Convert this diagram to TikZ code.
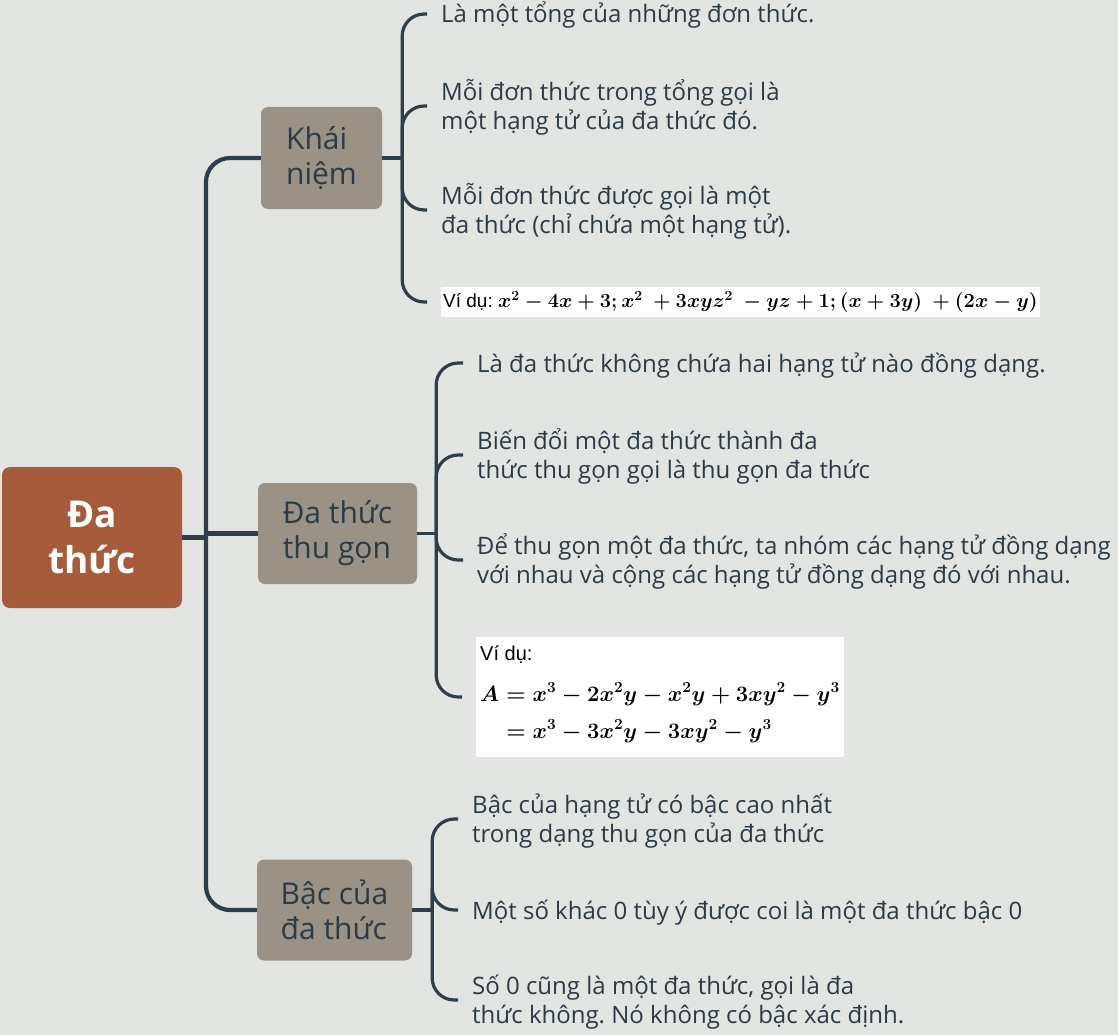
\RequirePackage{fix-cm}
\documentclass[tikz,border=0pt]{standalone}
\usepackage{amsmath}
\usepackage{amssymb}
\usepackage[no-math]{fontspec}
\setmainfont{Open Sans}
\newfontfamily\exsans{Liberation Sans}
\usepackage{tikz}
\usepackage{xcolor}
\usetikzlibrary{positioning}

\definecolor{bgpage}{HTML}{E3E5E2}
\definecolor{rootfill}{HTML}{A65B3A}
\definecolor{topicfill}{HTML}{9A9187}
\definecolor{linkcol}{HTML}{2F3E48}
\definecolor{txtcol}{HTML}{2B3A45}

% fixed strut so that one- and two-line leaves sit alike on their hook
\newcommand{\leaftxt}[1]{\rule{0pt}{26pt}#1\rule[-8pt]{0pt}{8pt}}

\begin{document}
\frenchspacing
\begin{tikzpicture}[x=1pt, y=-1pt,
    root/.style={rectangle, rounded corners=8, fill=rootfill, text=white, font=\fontsize{37}{46}\selectfont\bfseries, align=center, minimum width=180, minimum height=141},
    topic/.style={rectangle, rounded corners=7, fill=topicfill, text=txtcol, font=\fontsize{30}{35}\selectfont, align=left},
    leaf/.style={anchor=west, inner sep=0, text=txtcol, font=\fontsize{24}{28.5}\selectfont, align=left},
    example/.style={anchor=west, fill=white, text=black, align=left},
    link/.style={draw=linkcol, line width=3.2},
    trunk/.style={draw=linkcol, line width=4.2, rounded corners=24},
    hook/.style={link, rounded corners=22}]

        \fill[bgpage] (0,0) rectangle (1118,1035);
        \useasboundingbox (0,0) rectangle (1118,1035);

        \node[root] (root) at (92,537.5) {Đa\\thức};
        \node[topic, minimum width=121, minimum height=102] (kn) at (321.5,158) {Khái\\niệm};
        \node[topic, minimum width=159, minimum height=101] (tg) at (337.5,533.5) {Đa thức\\thu gọn};
        \node[topic, minimum width=155, minimum height=101] (bac) at (334.5,910) {Bậc của\\đa thức};

        \coordinate (tr) at (206,533.5);
        \draw[trunk] (kn.west) -| (tr) |- (bac.west);
        \draw[link, line width=4.2] (root.east) -- (root.east -| tr);
        \draw[link, line width=4.2] (tr) -- (tg.west);

        % Khai niem
        \node[leaf] (k1) at (441,14) {\leaftxt{Là một tổng của những đơn thức.}};
        \node[leaf] (k2) at (441,106) {\leaftxt{Mỗi đơn thức trong tổng gọi là\\một hạng tử của đa thức đó.}};
        \node[leaf] (k3) at (441,210) {\leaftxt{Mỗi đơn thức được gọi là một\\đa thức (chỉ chứa một hạng tử).}};
        \node[example, inner xsep=2, inner ysep=2, minimum height=30] (ex1) at (441,302)
            {{\exsans\fontsize{19}{21}\selectfont Ví dụ: }{\fontsize{20}{22}\selectfont\boldmath$x^2-4x+3;x^2\ +3xyz^2\ -yz+1;(x+3y)\ +(2x-y)$}};

        \coordinate[right=20pt of kn.east] (s1);
        \draw[link] (kn.east) -- (s1);
        \draw[hook] (s1) |- ([xshift=-14pt]k1.west);
        \draw[hook] (s1) |- ([xshift=-14pt]k2.west);
        \draw[hook] (s1) |- ([xshift=-14pt]k3.west);
        \draw[hook] (s1) |- ([xshift=-14pt]ex1.west);

        % Da thuc thu gon
        \node[leaf] (g1) at (477,363) {\leaftxt{Là đa thức không chứa hai hạng tử nào đồng dạng.}};
        \node[leaf] (g2) at (477,455) {\leaftxt{Biến đổi một đa thức thành đa\\thức thu gọn gọi là thu gọn đa thức}};
        \node[leaf] (g3) at (477,560) {\leaftxt{Để thu gọn một đa thức, ta nhóm các hạng tử đồng dạng\\với nhau và cộng các hạng tử đồng dạng đó với nhau.}};
        \node[example, inner xsep=4, inner ysep=9] (ex2) at (476,697)
            {{\exsans\fontsize{20}{22}\selectfont Ví dụ:}\\[16pt]
             {\fontsize{22}{30}\selectfont\boldmath$\begin{aligned}A&=x^3-2x^2y-x^2y+3xy^2-y^3\\[4pt]&=x^3-3x^2y-3xy^2-y^3\end{aligned}$}};

        \coordinate[right=19pt of tg.east] (s2);
        \draw[link] (tg.east) -- (s2);
        \draw[hook] (s2) |- ([xshift=-14pt]g1.west);
        \draw[hook] (s2) |- ([xshift=-14pt]g2.west);
        \draw[hook] (s2) |- ([xshift=-14pt]g3.west);
        \draw[hook] (s2) |- ([xshift=-14pt]ex2.west);

        % Bac cua da thuc
        \node[leaf] (b1) at (472,819) {\leaftxt{Bậc của hạng tử có bậc cao nhất\\trong dạng thu gọn của đa thức}};
        \node[leaf] (b2) at (472,910) {\leaftxt{Một số khác 0 tùy ý được coi là một đa thức bậc 0}};
        \node[leaf] (b3) at (472,1000) {\leaftxt{Số 0 cũng là một đa thức, gọi là đa\\thức không. Nó không có bậc xác định.}};

        \coordinate[right=20pt of bac.east] (s3);
        \draw[link] (bac.east) -- (s3);
        \draw[hook] (s3) |- ([xshift=-14pt]b1.west);
        \draw[hook] (s3) |- ([xshift=-14pt]b2.west);
        \draw[hook] (s3) |- ([xshift=-14pt]b3.west);
    \end{tikzpicture}
\end{document}
